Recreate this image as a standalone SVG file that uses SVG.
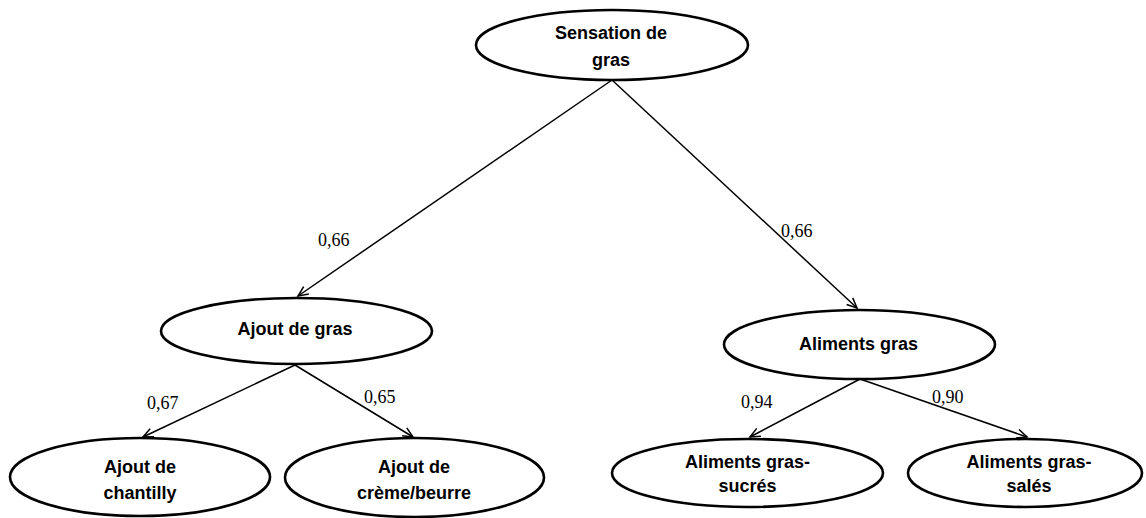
<svg xmlns="http://www.w3.org/2000/svg" width="1146" height="518" viewBox="0 0 1146 518">
<style>
.node ellipse{fill:#fff;stroke:#000;stroke-width:2.6}
.node text{font-family:"Liberation Sans",Arial,sans-serif;font-weight:bold;font-size:18px;text-anchor:middle;fill:#000}
.edge line{stroke:#000;stroke-width:1.5;marker-end:url(#arr)}
.lbl{font-family:"Liberation Serif","Times New Roman",serif;font-size:18px;fill:#000}
</style>
<defs>
<marker id="arr" viewBox="-12 -7 14 14" refX="0" refY="0" markerWidth="14" markerHeight="14" markerUnits="userSpaceOnUse" orient="auto">
<path d="M-10,-4.5 L0,0 L-10,4.5" fill="none" stroke="#000" stroke-width="1.5"/>
</marker>
</defs>
<rect width="1146" height="518" fill="#fff"/>
<g id="connectors" class="edge">
<line x1="612" y1="80" x2="298" y2="296"/>
<line x1="612" y1="80" x2="857" y2="308"/>
<line x1="295" y1="365" x2="143" y2="437"/>
<line x1="295" y1="365" x2="413" y2="437"/>
<line x1="860" y1="379" x2="750" y2="437"/>
<line x1="860" y1="379" x2="1027" y2="437"/>
</g>
<g id="labels">
<text class="lbl" x="318" y="246">0,66</text>
<text class="lbl" x="781" y="237">0,66</text>
<text class="lbl" x="147" y="409">0,67</text>
<text class="lbl" x="364" y="403">0,65</text>
<text class="lbl" x="741" y="408">0,94</text>
<text class="lbl" x="932" y="403">0,90</text>
</g>
<g id="sensation" class="node">
<ellipse cx="612" cy="45" rx="136" ry="35"/>
<text x="611" y="39">Sensation de</text>
<text x="611" y="66">gras</text>
</g>
<g id="ajout_gras" class="node">
<ellipse cx="296.5" cy="331" rx="135.5" ry="33"/>
<text x="295" y="335">Ajout de gras</text>
</g>
<g id="aliments_gras" class="node">
<ellipse cx="859.5" cy="344.5" rx="135.5" ry="34.5"/>
<text x="858.5" y="350">Aliments gras</text>
</g>
<g id="chantilly" class="node">
<ellipse cx="140" cy="477" rx="130" ry="39"/>
<text x="140" y="473">Ajout de</text>
<text x="140" y="499">chantilly</text>
</g>
<g id="creme" class="node">
<ellipse cx="414.5" cy="477.5" rx="129.5" ry="39.5"/>
<text x="414" y="473">Ajout de</text>
<text x="414" y="499">crème/beurre</text>
</g>
<g id="sucres" class="node">
<ellipse cx="747.5" cy="473" rx="135.5" ry="34"/>
<text x="747.5" y="468">Aliments gras-</text>
<text x="747.5" y="492">sucrés</text>
</g>
<g id="sales" class="node">
<ellipse cx="1025" cy="473" rx="117" ry="34"/>
<text x="1029" y="468">Aliments gras-</text>
<text x="1029" y="492">salés</text>
</g>
</svg>
